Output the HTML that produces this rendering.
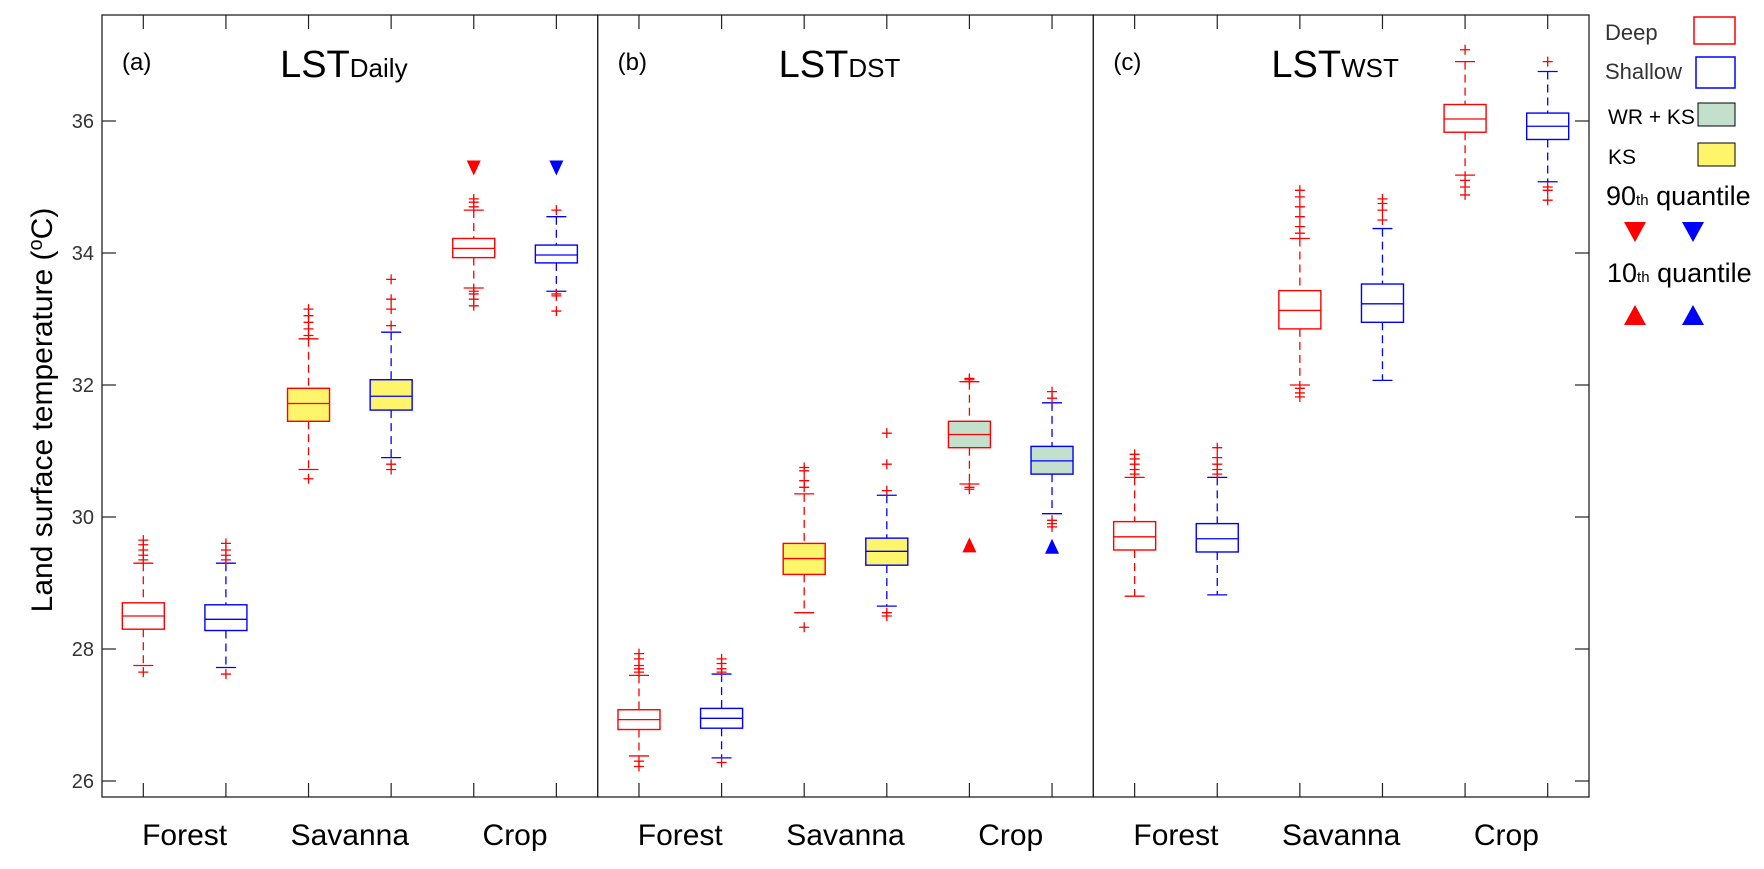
<!DOCTYPE html>
<html><head><meta charset="utf-8"><style>
body{margin:0;background:#fff;}
svg{display:block;font-family:"Liberation Sans",sans-serif;}
</style></head><body>
<svg id="chart" width="1764" height="869" viewBox="0 0 1764 869">
<g id="plot"></g>
<g>
 <text x="1605" y="40" font-size="22" fill="#333">Deep</text>
 <rect x="1694" y="17" width="41" height="27" fill="none" stroke="#f00" stroke-width="1.5"/>
 <text x="1605" y="79" font-size="22" fill="#333">Shallow</text>
 <rect x="1696" y="57" width="39" height="31" fill="none" stroke="#00f" stroke-width="1.5"/>
 <text x="1608" y="124" font-size="21" fill="#000">WR + KS</text>
 <rect x="1698" y="103" width="37" height="23" fill="#c2e0cc" stroke="#000" stroke-width="1"/>
 <text x="1608" y="164" font-size="21" fill="#000">KS</text>
 <rect x="1698" y="143" width="37" height="23" fill="#fff56a" stroke="#000" stroke-width="1"/>
 <text x="1606" y="205" font-size="27" fill="#000">90<tspan font-size="15">th</tspan> quantile</text>
 <polygon points="1624,222 1646,222 1635,242" fill="#f00"/>
 <polygon points="1682,222 1704,222 1693,242" fill="#00f"/>
 <text x="1607" y="282" font-size="27" fill="#000">10<tspan font-size="15">th</tspan> quantile</text>
 <polygon points="1624,325 1646,325 1635,305" fill="#f00"/>
 <polygon points="1682,325 1704,325 1693,305" fill="#00f"/>
</g>
<text transform="translate(52,410) rotate(-90)" text-anchor="middle" font-size="30" fill="#000">Land surface temperature (<tspan font-size="20" dy="-10">o</tspan><tspan dy="10">C)</tspan></text>
</svg>
<script>
const panels = ["a","b","c"];
const titles = ["Daily","DST","WST"];
const categories = ["Forest","Savanna","Crop"];
const yTicks = [26,28,30,32,34,36];
const q1 = [[28.3,28.28,31.45,31.62,33.93,33.85],[26.78,26.8,29.13,29.27,31.05,30.65],[29.5,29.47,32.85,32.95,35.83,35.72]];
const med = [[28.5,28.45,31.72,31.83,34.07,33.97],[26.93,26.95,29.37,29.48,31.25,30.85],[29.7,29.67,33.13,33.23,36.03,35.92]];
const q3 = [[28.7,28.67,31.95,32.08,34.22,34.12],[27.08,27.1,29.6,29.68,31.45,31.07],[29.93,29.9,33.43,33.53,36.25,36.12]];
const wLo = [[27.75,27.72,30.72,30.9,33.47,33.42],[26.38,26.35,28.55,28.65,30.5,30.05],[28.8,28.82,32.0,32.07,35.18,35.08]];
const wHi = [[29.3,29.3,32.7,32.8,34.65,34.55],[27.6,27.62,30.35,30.33,32.05,31.73],[30.6,30.6,34.22,34.37,36.9,36.75]];
const outHi = [[[29.35,29.42,29.5,29.58,29.65],[29.35,29.42,29.5,29.6],[32.75,32.85,32.95,33.05,33.15],[32.9,33.15,33.3,33.6],[34.7,34.77,34.82],[34.65]],
 [[27.65,27.7,27.75,27.85,27.93],[27.65,27.7,27.78,27.85],[30.45,30.55,30.7,30.75],[30.4,30.8,31.27],[32.08,32.1],[31.8,31.9]],
 [[30.65,30.72,30.8,30.88,30.95],[30.65,30.72,30.8,30.9,31.05],[34.3,34.4,34.55,34.7,34.85,34.95],[34.5,34.65,34.75,34.82],[37.08],[36.9]]];
const outLo = [[[27.65],[27.62],[30.58],[30.8,30.72],[33.42,33.38,33.3,33.2],[33.38,33.35,33.12]],
 [[26.3,26.22],[26.28],[28.33],[28.55,28.5],[30.45,30.42],[29.95,29.9,29.85]],
 [[],[],[31.95,31.88,31.82],[],[35.1,35.0,34.88],[35.0,34.95,34.8]]];
const fills = [["none","none","#fff56a","#fff56a","none","none"],["none","none","#fff56a","#fff56a","#c2e0cc","#c2e0cc"],["none","none","none","none","none","none"]];
const tri90 = [[null,null,null,null,35.28,35.28],[null,null,null,null,null,null],[null,null,null,null,null,null]];
const tri10 = [[null,null,null,null,null,null],[null,null,null,null,29.57,29.55],[null,null,null,null,null,null]];

const L=102,R=1589,T=15,B=797;
const PW=(R-L)/3, SP=PW/6;
const y=v=>121+(36-v)*66;
const xPos=(p,i)=>L+p*PW+SP/2+i*SP;
const NS="http://www.w3.org/2000/svg";
const g=document.getElementById('plot');
function mk(tag,at,parent){const e=document.createElementNS(NS,tag);for(const k in at)e.setAttribute(k,at[k]);(parent||g).appendChild(e);return e;}

for(let p=0;p<3;p++){
  const pg=mk('g',{});
  
  
  const x0=L+p*PW;
  const fr=mk('rect',{x:x0,y:T,width:PW,height:B-T,fill:'none',stroke:'#222','stroke-width':1.3},pg);
  
  
  for(let i=0;i<6;i++){
    const xx=xPos(p,i);
    mk('line',{x1:xx,x2:xx,y1:T,y2:T+14,stroke:'#222','stroke-width':1.2},pg);
    mk('line',{x1:xx,x2:xx,y1:B,y2:B-14,stroke:'#222','stroke-width':1.2},pg);
  }
  const lab=mk('text',{x:x0+20,y:70,'font-size':24,fill:'#000'},pg);
  lab.textContent='('+panels[p]+')';
  
  
  const tt=mk('text',{x:x0+PW/2-6,y:77,'font-size':38,'text-anchor':'middle',fill:'#000'},pg);
  tt.innerHTML='LST<tspan font-size="26">'+titles[p]+'</tspan>';
  
  
  for(let c=0;c<3;c++){
    const t=mk('text',{x:(xPos(p,2*c)+xPos(p,2*c+1))/2,y:845,'font-size':30,'text-anchor':'middle',fill:'#000'},pg);
    t.textContent=categories[c];
    
    
  }
  for(let i=0;i<6;i++){
    const xx=xPos(p,i), col=i%2?'#00f':'#f00', bw=21, cw=10;
    const bg=mk('g',{},pg);
    
    
    mk('line',{x1:xx,x2:xx,y1:y(wHi[p][i]),y2:y(q3[p][i]),stroke:col,'stroke-dasharray':'8,5','stroke-width':1.3},bg);
    mk('line',{x1:xx,x2:xx,y1:y(q1[p][i]),y2:y(wLo[p][i]),stroke:col,'stroke-dasharray':'8,5','stroke-width':1.3},bg);
    mk('line',{x1:xx-cw,x2:xx+cw,y1:y(wHi[p][i]),y2:y(wHi[p][i]),stroke:col,'stroke-width':1.3},bg);
    mk('line',{x1:xx-cw,x2:xx+cw,y1:y(wLo[p][i]),y2:y(wLo[p][i]),stroke:col,'stroke-width':1.3},bg);
    mk('rect',{x:xx-bw,y:y(q3[p][i]),width:2*bw,height:y(q1[p][i])-y(q3[p][i]),fill:fills[p][i],stroke:col,'stroke-width':1.4},bg);
    mk('line',{x1:xx-bw,x2:xx+bw,y1:y(med[p][i]),y2:y(med[p][i]),stroke:col,'stroke-width':1.3},bg);
    for(const v of outHi[p][i].concat(outLo[p][i])){
      mk('path',{d:`M${xx-5},${y(v)}h10M${xx},${y(v)-5}v10`,stroke:'#f00','stroke-width':1.3},bg);
    }
    if(tri90[p][i]!=null){const ty=y(tri90[p][i]);
      const tr=mk('polygon',{points:`${xx-7},${ty-8} ${xx+7},${ty-8} ${xx},${ty+7}`,fill:col},bg);
      
      }
    if(tri10[p][i]!=null){const ty=y(tri10[p][i]);
      const tr=mk('polygon',{points:`${xx-7},${ty+7} ${xx+7},${ty+7} ${xx},${ty-8}`,fill:col},bg);
      
      }
  }
}
for(const v of yTicks){
  mk('line',{x1:L,x2:L+14,y1:y(v),y2:y(v),stroke:'#222','stroke-width':1.2});
  mk('line',{x1:R,x2:R-14,y1:y(v),y2:y(v),stroke:'#222','stroke-width':1.2});
  const t=mk('text',{x:L-8,y:y(v)+7,'font-size':20,'text-anchor':'end',fill:'#333'});
  t.textContent=v;
  
  
}
</script>
</body></html>
